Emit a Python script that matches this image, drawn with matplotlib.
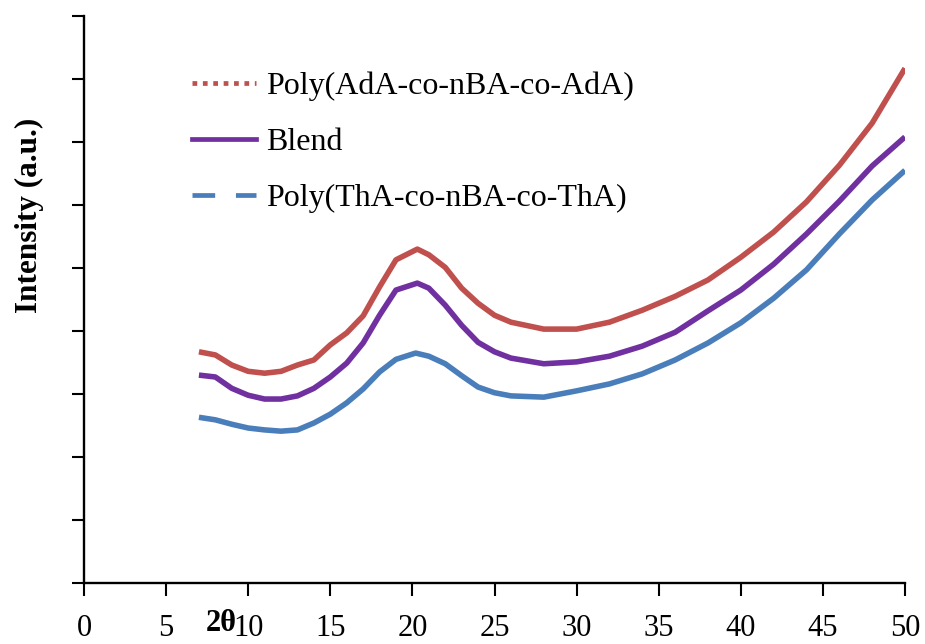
import matplotlib
matplotlib.use("Agg")
import matplotlib.pyplot as plt
from matplotlib.lines import Line2D

# --------------------------
# Data (arbitrary intensity units)
# --------------------------
ada_x = [7, 8, 9, 10, 11, 12, 13, 14, 15, 16, 17, 18, 19, 20.3, 21, 22, 23, 24,
         25, 26, 28, 30, 32, 34, 36, 38, 40, 42, 44, 46, 48, 50]
ada_y = [367, 362, 346, 336, 333, 336, 346, 354, 378, 397, 424, 470, 513, 530,
         521, 501, 468, 444, 425, 414, 403, 403, 414, 433, 455, 481, 517, 557,
         605, 663, 730, 817]

blend_x = [7, 8, 9, 10, 11, 12, 13, 14, 15, 16, 17, 18, 19, 20.3, 21, 22, 23, 24,
           25, 26, 28, 30, 32, 34, 36, 38, 40, 42, 44, 46, 48, 50]
blend_y = [330, 327, 309, 298, 292, 292, 297, 309, 327, 349, 381, 425, 465, 476,
           468, 441, 409, 382, 367, 357, 348, 351, 360, 376, 398, 432, 465, 506,
           554, 606, 662, 708]

tha_x = [7, 8, 9, 10, 11, 12, 13, 14, 15, 16, 17, 18, 19, 20.2, 21, 22, 23, 24,
         25, 26, 28, 30, 32, 34, 36, 38, 40, 42, 44, 46, 48, 50]
tha_y = [263, 259, 252, 246, 243, 241, 243, 254, 268, 286, 308, 335, 355, 365,
         360, 348, 329, 311, 302, 297, 295, 305, 316, 332, 354, 381, 413, 452,
         497, 554, 608, 655]

x_ticks = [0, 5, 10, 15, 20, 25, 30, 35, 40, 45, 50]
y_ticks = [0, 100, 200, 300, 400, 500, 600, 700, 800, 900]

labels = ["Poly(AdA-co-nBA-co-AdA)", "Blend", "Poly(ThA-co-nBA-co-ThA)"]

RED = "#C0504D"
PURPLE = "#7030A0"
BLUE = "#4A7EBB"

plt.rcParams["font.family"] = ["Liberation Serif", "DejaVu Serif"]

fig = plt.figure(figsize=(9.25, 6.44), dpi=100)
ax = fig.add_axes([84 / 925, 61 / 644, 821 / 925, 567 / 644])

ax.plot(ada_x, ada_y, color=RED, lw=4, solid_capstyle="butt", solid_joinstyle="round")
ax.plot(blend_x, blend_y, color=PURPLE, lw=4, solid_capstyle="butt", solid_joinstyle="round")
ax.plot(tha_x, tha_y, color=BLUE, lw=4, solid_capstyle="butt", solid_joinstyle="round")

ax.set_xlim(0, 50)
ax.set_ylim(0, 900)
ax.set_xticks(x_ticks)
ax.set_yticks(y_ticks)
ax.set_yticklabels([])
ax.tick_params(axis="x", direction="out", length=9, width=1.5, pad=13, labelsize=22)
ax.tick_params(axis="y", direction="out", length=9, width=1.5)

for side in ["top", "right"]:
    ax.spines[side].set_visible(False)
for side in ["left", "bottom"]:
    ax.spines[side].set_linewidth(1.7)

ax.set_ylabel("Intensity (a.u.)", fontsize=22.5, fontweight="bold", va="center")
ax.yaxis.set_label_coords(-0.066, 0.648)

ax.text(0.167, -0.072, "2θ", transform=ax.transAxes, ha="center", va="center",
        fontsize=22, fontweight="bold", clip_on=False)

# legend handles with the line styles of the original
handles = [
    Line2D([], [], color=RED, lw=3.4, linestyle=(0, (1, 1.2)), dash_capstyle="butt"),
    Line2D([], [], color=PURPLE, lw=3.4),
    Line2D([], [], color=BLUE, lw=3.4, linestyle=(0, (4.8, 4.4)), dash_capstyle="butt"),
]
ax.legend(handles, labels, loc="upper left", bbox_to_anchor=(0.132, 0.902),
          frameon=False, fontsize=23, handlelength=2.0, handletextpad=0.3,
          labelspacing=0.84, borderpad=0, borderaxespad=0)

fig.savefig("out.png", dpi=100)
